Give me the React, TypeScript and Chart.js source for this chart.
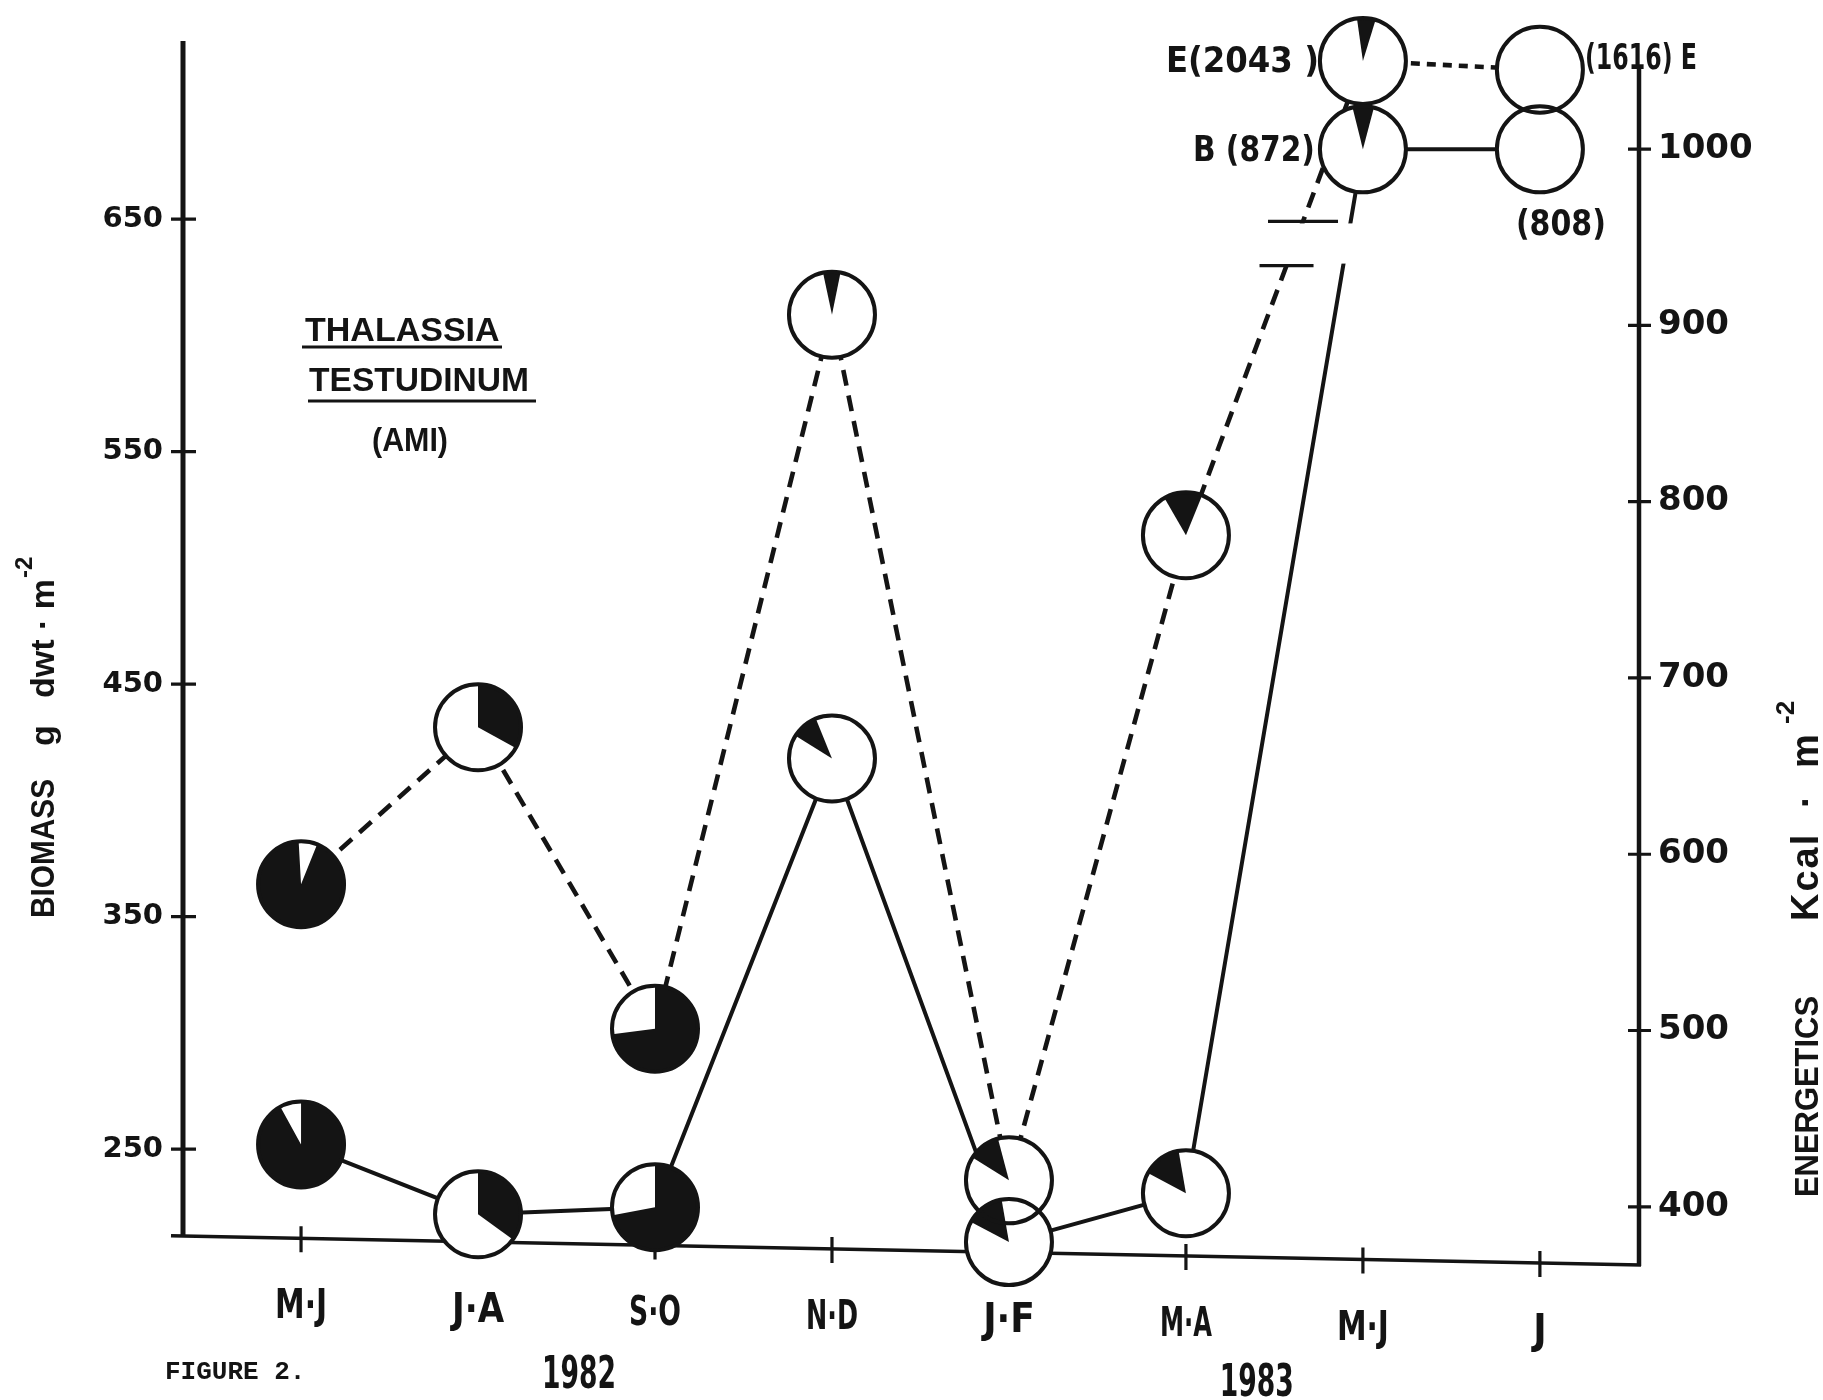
import React, { useEffect, useRef } from 'react';
import { Chart, registerables } from 'chart.js';

Chart.register(...registerables);

// ---------- data ----------
const categories = ['M·J', 'J·A', 'S·O', 'N·D', 'J·F', 'M·A', 'M·J', 'J'];
const yearLabels = ['1982', '1983'];
const yearAnchors = [1.57, 5.4]; // category-index position under which each year is written

// Biomass (g dwt·m-2), solid line, left axis (last two plotted above the axis break)
const biomassPlot = [252, 222, 225, 418, 210, 231, 680, 680];
const biomassNotes = ['', '', '', '', '', '', 'B (872)', '(808)'];
const biomassDarkFrac = [0.92, 0.35, 0.72, 0.1, 0.145, 0.145, 0.08, 0];
const biomassDarkStart = [0, 0, 0, 302, 298, 298, 346, 0];

// Energetics (Kcal·m-2), dashed line, right axis (last two plotted above the axis break)
const energyPlot = [583, 672, 501, 906, 415, 781, 1050, 1045];
const energyNotes = ['', '', '', '', '', '', 'E(2043 )', '(1616) E'];
const energyDarkFrac = [0.93, 0.33, 0.73, 0.065, 0.12, 0.145, 0.07, 0];
const energyDarkStart = [22, 0, 0, 348, 302, 330, 352, 0];

const leftTicks = [250, 350, 450, 550, 650];
const rightTicks = [400, 500, 600, 700, 800, 900, 1000];
const axisBreak = [630, 649]; // biomass units where the lines are broken

// ---------- styles ----------
const INK = '#141414';
const NARROW = '"Liberation Sans Narrow", "DejaVu Sans Condensed", "Liberation Sans", sans-serif';
const SANS = '"Liberation Sans", "DejaVu Sans", sans-serif';
const WIDE = '"DejaVu Sans", "Liberation Sans", sans-serif';
const PIE_R = 43;

function axisLineY(a: any, x: number) {
  return a.bottom - 14 + ((x - a.left) / (a.right - a.left)) * 29;
}

function text(ctx: any, s: string, x: number, y: number, font: string, align: string, maxW?: number) {
  ctx.font = font;
  ctx.textAlign = align;
  ctx.textBaseline = 'alphabetic';
  ctx.fillStyle = INK;
  if (maxW) ctx.fillText(s, x, y, maxW);
  else ctx.fillText(s, x, y);
}

function vtext(ctx: any, s: string, bx: number, by: number, font: string, maxW?: number, spacing?: string) {
  ctx.save();
  ctx.translate(bx, by);
  ctx.rotate(-Math.PI / 2);
  if (spacing) ctx.letterSpacing = spacing;
  text(ctx, s, 0, 0, font, 'left', maxW);
  ctx.restore();
}

const figurePlugin = {
  id: 'thalassiaFigure',
  afterDatasetsDraw(chart: any) {
    const { ctx, chartArea: a, scales } = chart;
    const xs = scales.x;
    const yB = scales.yB;
    const yE = scales.yE;
    const metaE = chart.getDatasetMeta(0);
    const metaB = chart.getDatasetMeta(1);
    ctx.save();
    ctx.strokeStyle = INK;
    ctx.lineCap = 'butt';

    // ---- axis break on the lines between M·A and M·J (1983)
    const yHi = yB.getPixelForValue(axisBreak[1]);
    const yLo = yB.getPixelForValue(axisBreak[0]);
    const p5 = metaE.data[5], p6 = metaE.data[6];
    const b6 = metaB.data[6];
    ctx.fillStyle = '#fff';
    ctx.fillRect(p5.x, yHi + 2, b6.x + 30 - p5.x, yLo - yHi - 4);
    const crossX = (y: number) => p5.x + ((p5.y - y) / (p5.y - p6.y)) * (p6.x - p5.x);
    ctx.lineWidth = 3.4;
    const cHi = crossX(yHi), cLo = crossX(yLo);
    ctx.beginPath();
    ctx.moveTo(cHi - 35, yHi); ctx.lineTo(cHi + 35, yHi);
    ctx.moveTo(cLo - 27, yLo); ctx.lineTo(cLo + 27, yLo);
    ctx.stroke();

    // ---- axes (hand-drawn look: slightly sloping base line)
    ctx.lineWidth = 5;
    ctx.beginPath();
    ctx.moveTo(a.left, a.top);
    ctx.lineTo(a.left, axisLineY(a, a.left) + 1);
    ctx.stroke();
    ctx.lineWidth = 4.5;
    ctx.beginPath();
    ctx.moveTo(a.right, a.top + 24);
    ctx.lineTo(a.right, axisLineY(a, a.right) + 1);
    ctx.stroke();
    ctx.lineWidth = 3.5;
    ctx.beginPath();
    ctx.moveTo(a.left - 12, axisLineY(a, a.left - 12));
    ctx.lineTo(a.right + 2, axisLineY(a, a.right + 2));
    ctx.stroke();

    // crossing tick marks
    ctx.lineWidth = 3.2;
    ctx.beginPath();
    leftTicks.forEach((v) => {
      const y = yB.getPixelForValue(v);
      ctx.moveTo(a.left - 12, y); ctx.lineTo(a.left + 13, y);
    });
    rightTicks.forEach((v) => {
      const y = yE.getPixelForValue(v);
      ctx.moveTo(a.right - 11, y); ctx.lineTo(a.right + 12, y);
    });
    categories.forEach((_, i) => {
      const x = xs.getPixelForValue(i);
      const y = axisLineY(a, x);
      ctx.moveTo(x, y - 12); ctx.lineTo(x, y + 14);
    });
    ctx.stroke();

    // ---- pie markers
    const pies: any[] = [];
    metaE.data.forEach((p: any, i: number) => pies.push({ x: p.x, y: p.y, f: energyDarkFrac[i], s: energyDarkStart[i] }));
    metaB.data.forEach((p: any, i: number) => pies.push({ x: p.x, y: p.y, f: biomassDarkFrac[i], s: biomassDarkStart[i] }));
    pies.forEach((p) => {
      ctx.beginPath();
      ctx.arc(p.x, p.y, PIE_R, 0, Math.PI * 2);
      ctx.fillStyle = '#fff';
      ctx.fill();
    });
    pies.forEach((p) => {
      if (p.f <= 0) return;
      const s = ((p.s - 90) * Math.PI) / 180;
      const e = s + p.f * Math.PI * 2;
      ctx.beginPath();
      ctx.moveTo(p.x, p.y);
      ctx.arc(p.x, p.y, PIE_R, s, e);
      ctx.closePath();
      ctx.fillStyle = INK;
      ctx.fill();
    });
    ctx.lineWidth = 4;
    pies.forEach((p) => {
      ctx.beginPath();
      ctx.arc(p.x, p.y, PIE_R, 0, Math.PI * 2);
      ctx.stroke();
    });

    // ---- notes for the off-scale values
    const nf = `bold 36px ${NARROW}`;
    energyNotes.forEach((n, i) => {
      if (!n) return;
      const p = metaE.data[i];
      if (i === 6) text(ctx, n, p.x - 44, p.y + 11, nf, 'right', 153);
      else text(ctx, n, p.x + 45, p.y - 1, nf, 'left', 112);
    });
    biomassNotes.forEach((n, i) => {
      if (!n) return;
      const p = metaB.data[i];
      if (i === 6) text(ctx, n, p.x - 48, p.y + 12, nf, 'right', 122);
      else text(ctx, n, p.x + 21, p.y + 86, nf, 'center', 90);
    });

    // ---- category labels, years, figure caption
    categories.forEach((c, i) => {
      const x = xs.getPixelForValue(i);
      text(ctx, c, x, axisLineY(a, x) + 80, `bold 40px ${NARROW}`, 'center', 52);
    });
    yearLabels.forEach((yl, i) => {
      const x = xs.getPixelForValue(yearAnchors[i]);
      text(ctx, yl, x, i === 0 ? 1388 : 1396, `bold 44px ${NARROW}`, 'center', 74);
    });
    text(ctx, 'FIGURE 2.', 165, 1379, `bold 26px "Liberation Mono", "DejaVu Sans Mono", monospace`, 'left', 143);

    // ---- species title
    text(ctx, 'THALASSIA', 305, 341, `bold 34px ${SANS}`, 'left', 195);
    text(ctx, 'TESTUDINUM', 309, 391, `bold 34px ${SANS}`, 'left', 220);
    text(ctx, '(AMI)', 372, 451, `bold 34px ${SANS}`, 'left', 76);
    ctx.lineWidth = 3;
    ctx.beginPath();
    ctx.moveTo(302, 347); ctx.lineTo(502, 347);
    ctx.moveTo(308, 401); ctx.lineTo(536, 401);
    ctx.stroke();

    // ---- axis titles (rotated)
    const tf = `bold 34px ${SANS}`;
    vtext(ctx, 'BIOMASS', 54, 918, tf, 139);
    vtext(ctx, 'g', 54, 746, tf);
    vtext(ctx, 'dwt · m', 54, 698, tf, 119);
    vtext(ctx, '-2', 32, 578, `bold 24px ${SANS}`, 26);
    vtext(ctx, 'ENERGETICS', 1818, 1197, tf, 201);
    vtext(ctx, 'Kcal', 1818, 921, `bold 38px ${SANS}`, undefined, '2px');
    vtext(ctx, '·', 1818, 808, `bold 38px ${SANS}`);
    vtext(ctx, 'm', 1818, 768, `bold 38px ${SANS}`);
    vtext(ctx, '-2', 1794, 724, `bold 26px ${SANS}`, 34);

    ctx.restore();
  },
};

export default function App() {
  const ref = useRef<HTMLCanvasElement | null>(null);
  useEffect(() => {
    if (!ref.current) return;
    const chart = new Chart(ref.current, {
      type: 'line',
      data: {
        datasets: [
          {
            label: 'Energetics (Kcal·m-2)',
            data: energyPlot.map((v, i) => ({ x: i, y: v })),
            yAxisID: 'yE',
            borderColor: INK,
            borderWidth: 4.6,
            borderDash: [16, 10],
            pointRadius: 0,
            tension: 0,
            segment: { borderDash: (c: any) => (c.p0DataIndex === 6 ? [9, 7] : [16, 10]) },
          } as any,
          {
            label: 'Biomass (g dwt·m-2)',
            data: biomassPlot.map((v, i) => ({ x: i, y: v })),
            yAxisID: 'yB',
            borderColor: INK,
            borderWidth: 4,
            pointRadius: 0,
            tension: 0,
          },
        ],
      },
      options: {
        animation: false,
        responsive: false,
        devicePixelRatio: 1,
        layout: { padding: { top: 41, left: 0, right: 0, bottom: 0 } },
        plugins: { legend: { display: false }, tooltip: { enabled: false } },
        scales: {
          x: {
            type: 'linear',
            min: -0.667,
            max: 7.56,
            grid: { display: false },
            border: { display: false },
            ticks: { display: false },
            afterBuildTicks: (s: any) => {
              s.ticks = categories.map((_, i) => ({ value: i }));
            },
            afterFit: (s: any) => {
              s.height = 150;
            },
          },
          yB: {
            type: 'linear',
            position: 'left',
            min: 206.6,
            max: 726.6,
            grid: { display: false },
            border: { display: false },
            ticks: {
              color: INK,
              padding: 12,
              font: { family: WIDE, size: 29, weight: 'bold' },
              callback: (v: any) => String(v),
            },
            afterBuildTicks: (s: any) => {
              s.ticks = leftTicks.map((v) => ({ value: v }));
            },
            afterFit: (s: any) => {
              s.width = 183;
            },
          },
          yE: {
            type: 'linear',
            position: 'right',
            min: 375.5,
            max: 1061.3,
            grid: { display: false },
            border: { display: false },
            ticks: {
              color: INK,
              padding: 11,
              font: { family: WIDE, size: 34, weight: 'bold' },
              callback: (v: any) => String(v),
            },
            afterBuildTicks: (s: any) => {
              s.ticks = rightTicks.map((v) => ({ value: v }));
            },
            afterFit: (s: any) => {
              s.width = 184;
            },
          },
        },
      } as any,
      plugins: [figurePlugin],
    });
    return () => chart.destroy();
  }, []);

  return (
    <div style={{ position: 'absolute', left: 0, top: 0, width: 1823, height: 1400, background: '#fff' }}>
      <canvas ref={ref} width={1823} height={1400} style={{ display: 'block', width: 1823, height: 1400 }} />
    </div>
  );
}
